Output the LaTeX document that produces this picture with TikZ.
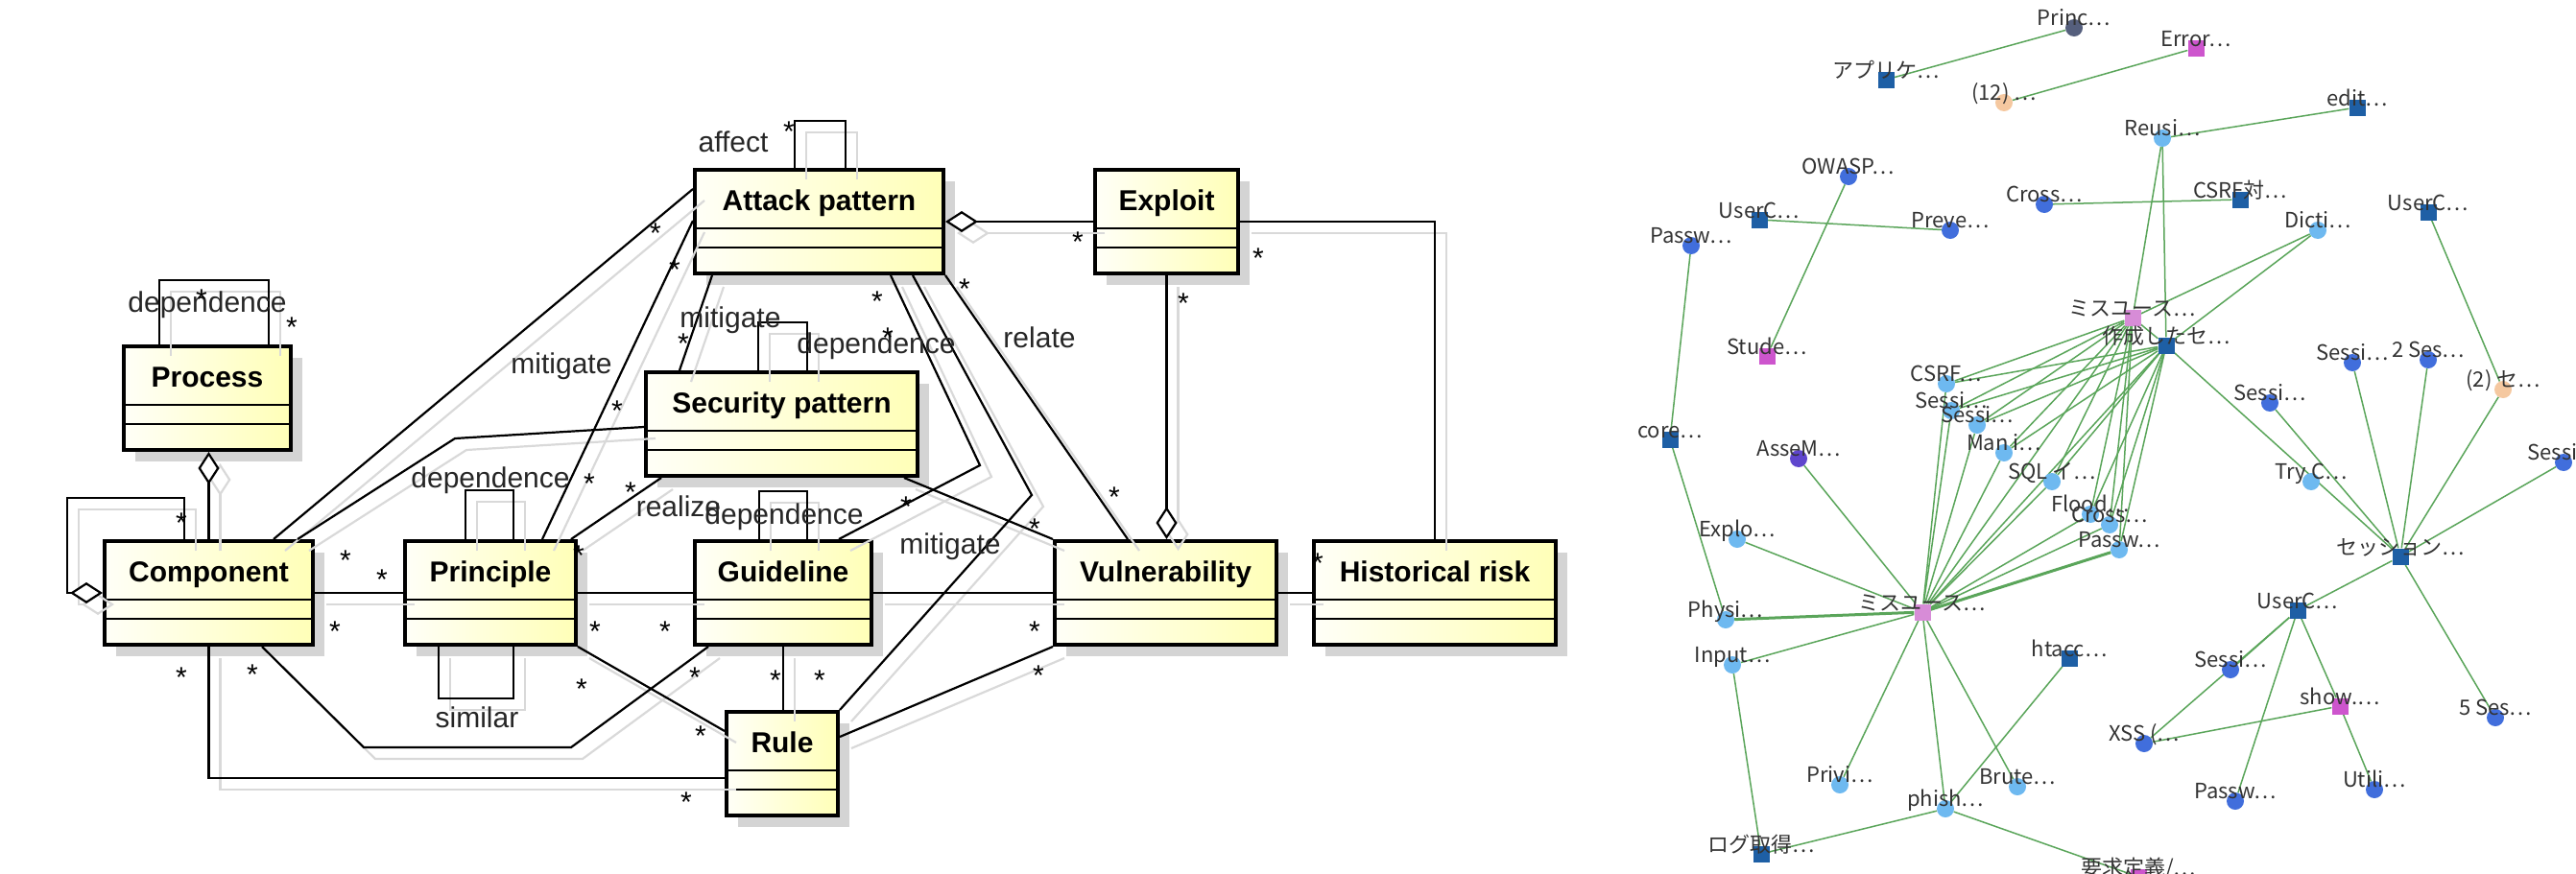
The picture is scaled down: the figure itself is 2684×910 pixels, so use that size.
\documentclass[tikz,border=0pt]{standalone}
\usepackage{fontspec}
\setmainfont{Liberation Sans}
\newfontfamily\jpfont{Noto Sans CJK JP}
\usepackage{tikz}
\usetikzlibrary{arrows.meta,shadows,backgrounds}

\definecolor{gsqblue}{RGB}{30,95,165}
\definecolor{glight}{RGB}{110,185,240}
\definecolor{gmid}{RGB}{65,110,220}
\definecolor{gpink}{RGB}{215,140,215}
\definecolor{gmag}{RGB}{205,85,205}
\definecolor{gpeach}{RGB}{245,200,160}
\definecolor{gslate}{RGB}{85,95,125}
\definecolor{gpurple}{RGB}{95,70,205}
\definecolor{ggreen}{RGB}{90,165,90}

\tikzset{
  umlcls/.style={draw, line width=4pt, anchor=north west, inner xsep=0pt, inner ysep=0pt,
    text height=42pt, text depth=66pt, font=\fontsize{30}{36}\selectfont\bfseries,
    left color=yellow!3, right color=yellow!28,
    drop shadow={shadow xshift=12pt, shadow yshift=-12pt, fill=black!17, opacity=1},
    path picture={
      \draw[line width=2.5pt] ([yshift=-61pt]path picture bounding box.north west) -- ([yshift=-61pt]path picture bounding box.north east);
      \draw[line width=2.5pt] ([yshift=-81pt]path picture bounding box.north west) -- ([yshift=-81pt]path picture bounding box.north east);
    }}
}
\tikzset{
  assoc/.style={draw=black, line width=2.2pt},
  agg/.style={-{Diamond[length=34pt, width=22pt, fill=white]}},
  ghostlink/.style={assoc/.style={draw=black!15, line width=2.2pt},
    agg/.style={-{Diamond[length=34pt, width=22pt, open]}}}
}
\tikzset{
  mult/.style={font=\fontsize{30}{36}\selectfont, anchor=base, yshift=-17pt, inner sep=0pt},
  rolelbl/.style={font=\fontsize{30}{36}\selectfont, text=black!85, inner sep=0pt}
}
\tikzset{
  gsq/.style={rectangle, inner sep=0pt, minimum size=17pt, fill=#1},
  gdot/.style={circle, inner sep=0pt, minimum size=18pt, fill=#1},
  glbl/.style={font=\jpfont\fontsize{22}{26}\selectfont, text=black!80, anchor=base, inner sep=0pt},
  gline/.style={draw=ggreen, line width=1.5pt}
}

\newcommand{\umllinks}{%
  \draw[assoc] ([xshift=39pt]proc.north west) -- ++(0,-67) -| ([xshift=153pt]proc.north west);
  \draw[assoc, agg] (comp.north) -- (comp.north |- proc.south);
  \draw[assoc, agg] ([xshift=85pt]comp.north west) -- ++(0,-43) -| ([xshift=-37pt]comp.west) -- (comp.west);
  \draw[assoc] ([xshift=178pt]comp.north west) -- ([yshift=-22pt]attack.north west);
  \draw[assoc] ([xshift=203pt]comp.north west) -- (474,457) -- ([yshift=-59pt]secp.north west);
  \draw[assoc] ([xshift=145pt]prin.north west) -- ([yshift=-55pt]attack.north west);
  \draw[assoc] ([xshift=20pt]attack.south west) -- ([xshift=37pt]secp.north west);
  \draw[assoc] ([xshift=119pt]secp.north west) -- ++(0,-50) -| ([xshift=170pt]secp.north west);
  \draw[assoc] ([xshift=106pt]attack.north west) -- ++(0,-49) -| ([xshift=159pt]attack.north west);
  \draw[assoc, agg] (exploit.west) -- (attack.east);
  \draw[assoc] (exploit.east) -| (hist.north);
  \draw[assoc, agg] (exploit.south) -- (exploit.south |- vuln.north);
  \draw[assoc] (attack.south east) -- ([xshift=78pt]vuln.north west);
  \draw[assoc] ([xshift=206pt]attack.south west) -- (1021,485) -- ([xshift=152pt]guide.north west);
  \draw[assoc] ([xshift=229pt]attack.south west) -- (1075,516) -- (rule.north east);
  \draw[assoc] ([xshift=-16pt]secp.south east) -- (vuln.north west);
  \draw[assoc] (comp.east) -- (prin.west);
  \draw[assoc] (prin.east) -- (guide.west);
  \draw[assoc] (guide.east) -- (vuln.west);
  \draw[assoc] (vuln.east) -- (hist.west);
  \draw[assoc] ([xshift=65pt]prin.north west) -- ++(0,-51) -| ([xshift=115pt]prin.north west);
  \draw[assoc] ([xshift=37pt]prin.south west) -- ++(0,54) -| ([xshift=115pt]prin.south west);
  \draw[assoc] ([xshift=-7pt]prin.north east) -- ([xshift=18pt]secp.south west);
  \draw[assoc] ([xshift=69pt]guide.north west) -- ++(0,-50) -| ([xshift=119pt]guide.north west);
  \draw[assoc] (comp.south) |- ([yshift=-15pt]rule.west);
  \draw[assoc] ([xshift=166pt]comp.south west) -- (379,779) -- (595,779) -- ([xshift=16pt]guide.south west);
  \draw[assoc] (prin.south east) -- ([yshift=-22pt]rule.north west);
  \draw[assoc] (guide.south) -- (guide.south |- rule.north);
  \draw[assoc] (vuln.south west) -- ([yshift=-28pt]rule.north east);
}

\begin{document}
\begin{tikzpicture}[x=1pt, y=-1pt, label distance=-7pt]
  \useasboundingbox (0,0) rectangle (2684,910);

  % class diagram
  \node[umlcls, minimum width=174pt] (proc) at (127,359) {Process};
  \node[umlcls, minimum width=217pt] (comp) at (107,562) {Component};
  \node[umlcls, minimum width=178pt] (prin) at (420,562) {Principle};
  \node[umlcls, minimum width=184pt] (guide) at (722,562) {Guideline};
  \node[umlcls, minimum width=231pt] (vuln) at (1097,562) {Vulnerability};
  \node[umlcls, minimum width=252pt] (hist) at (1367,562) {Historical risk};
  \node[umlcls, minimum width=259pt] (attack) at (722,175) {Attack pattern};
  \node[umlcls, minimum width=149pt] (exploit) at (1139,175) {Exploit};
  \node[umlcls, minimum width=283pt] (secp) at (671,386) {Security pattern};
  \node[umlcls, minimum width=116pt] (rule) at (755,740) {Rule};

  \begin{scope}[transform canvas={xshift=12pt, yshift=-12pt}, ghostlink]
    \umllinks
  \end{scope}
  \umllinks

  \node[rolelbl] (depproc) at (216,318) {dependence};
  \node[rolelbl] (aff) at (764,148) {affect};
  \node[rolelbl] (mitprin) at (585,382) {mitigate};
  \node[rolelbl] (mitsec) at (761,334) {mitigate};
  \node[rolelbl] (depsec) at (913,361) {dependence};
  \node[rolelbl] (rel) at (1083,352) {relate};
  \node[rolelbl] (depprin) at (511,501) {dependence};
  \node[rolelbl] (real) at (707,528) {realize};
  \node[rolelbl] (depguide) at (817,539) {dependence};
  \node[rolelbl] (mitrule) at (990,570) {mitigate};
  \node[rolelbl] (sim) at (497,748) {similar};

  \foreach \x/\y [count=\i] in {210/305, 304/334, 822/130, 189/538, 683/236, 703/274,
      712/351, 643/421, 614/497, 657/506, 603/572, 360/577, 398/597, 349/651, 620/651,
      693/651, 189/699, 263/696, 606/711, 724/699, 808/702, 854/702, 730/760, 715/829,
      914/307, 925/345, 1005/294, 1123/245, 1233/309, 1311/262, 1161/511, 944/521,
      1078/544, 1373/580, 1078/651, 1082/697}
    \node[mult] (m\i) at (\x,\y) {*};

  % graph
  \node[gdot=gslate, label={[glbl]90:Princ⋯}] (princ) at (2161,29) {};
  \node[gsq=gsqblue, label={[glbl]90:アプリケ⋯}] (appli) at (1965,83) {};
  \node[gsq=gmag, label={[glbl]90:Error⋯}] (error) at (2288,50) {};
  \node[gdot=gpeach, label={[glbl]90:(12) ⋯}] (n12) at (2088,107) {};
  \node[gsq=gsqblue, label={[glbl]90:edit⋯}] (edit) at (2456,112) {};
  \node[gdot=glight, label={[glbl]90:Reusi⋯}] (reusi) at (2253,144) {};
  \node[gdot=gmid, label={[glbl]90:OWASP⋯}] (owasp) at (1926,184) {};
  \node[gsq=gsqblue, label={[glbl]90:UserC⋯}] (userA) at (1833,229) {};
  \node[gdot=gmid, label={[glbl]90:Preve⋯}] (preve) at (2032,240) {};
  \node[gdot=gmid, label={[glbl]90:Passw⋯}] (passA) at (1762,256) {};
  \node[gdot=gmid, label={[glbl]90:Cross⋯}] (crossA) at (2130,213) {};
  \node[gsq=gsqblue, label={[glbl]90:CSRF対⋯}] (csrfT) at (2334,208) {};
  \node[gdot=glight, label={[glbl]90:Dicti⋯}] (dicti) at (2415,240) {};
  \node[gsq=gsqblue, label={[glbl]90:UserC⋯}] (userB) at (2530,221) {};
  \node[gsq=gpink, label={[glbl]90:ミスユース⋯}] (misU) at (2222,331) {};
  \node[gsq=gsqblue, label={[glbl]90:作成したセ⋯}] (saku) at (2257,360) {};
  \node[gsq=gmag, label={[glbl]90:Stude⋯}] (stude) at (1841,371) {};
  \node[gdot=glight, label={[glbl]90:CSRF⋯}] (csrf) at (2028,400) {};
  \node[gdot=glight, label={[glbl]90:Sessi⋯}] (sesA) at (2033,428) {};
  \node[gdot=glight, label={[glbl]90:Sessi⋯}] (sesB) at (2060,443) {};
  \node[gdot=glight, label={[glbl]90:Man i⋯}] (mani) at (2088,472) {};
  \node[gdot=glight, label={[glbl]90:SQL イ⋯}] (sql) at (2138,502) {};
  \node[gdot=glight, label={[glbl]90:Flood⋯}] (flood) at (2178,536) {};
  \node[gdot=glight, label={[glbl]90:Cross⋯}] (crossB) at (2198,547) {};
  \node[gdot=glight, label={[glbl]90:Passw⋯}] (passB) at (2208,573) {};
  \node[gdot=gmid, label={[glbl]90:Sessi⋯}] (sesC) at (2451,378) {};
  \node[gdot=gmid, label={[glbl]90:2 Ses⋯}] (ses2) at (2530,375) {};
  \node[gdot=gpeach, label={[glbl]90:(2) セ⋯}] (sei2) at (2608,406) {};
  \node[gdot=gmid, label={[glbl]90:Sessi⋯}] (sesD) at (2365,420) {};
  \node[gsq=gsqblue, label={[glbl]90:core⋯}] (core) at (1740,458) {};
  \node[gdot=gpurple, label={[glbl]90:AsseM⋯}] (assem) at (1874,478) {};
  \node[gdot=glight, label={[glbl]90:Try C⋯}] (tryc) at (2408,502) {};
  \node[gdot=gmid, label={[glbl]90:Sessi⋯}] (sesE) at (2671,482) {};
  \node[gdot=glight, label={[glbl]90:Explo⋯}] (explo) at (1810,562) {};
  \node[gsq=gsqblue, label={[glbl]90:セッション⋯}] (session) at (2501,580) {};
  \node[gsq=gpink, label={[glbl]90:ミスユース⋯}] (misL) at (2003,638) {};
  \node[gdot=glight, label={[glbl]90:Physi⋯}] (physi) at (1798,646) {};
  \node[gsq=gsqblue, label={[glbl]90:UserC⋯}] (userC) at (2394,636) {};
  \node[gdot=glight, label={[glbl]90:Input⋯}] (input) at (1805,693) {};
  \node[gsq=gsqblue, label={[glbl]90:htacc⋯}] (htacc) at (2156,686) {};
  \node[gdot=gmid, label={[glbl]90:Sessi⋯}] (sesF) at (2324,698) {};
  \node[gsq=gmag, label={[glbl]90:show.⋯}] (show) at (2438,736) {};
  \node[gdot=gmid, label={[glbl]90:5 Ses⋯}] (ses5) at (2600,748) {};
  \node[gdot=gmid, label={[glbl]90:XSS (⋯}] (xss) at (2234,775) {};
  \node[gdot=glight, label={[glbl]90:Privi⋯}] (privi) at (1917,818) {};
  \node[gdot=glight, label={[glbl]90:Brute⋯}] (brute) at (2102,820) {};
  \node[gdot=gmid, label={[glbl]90:Passw⋯}] (passC) at (2329,835) {};
  \node[gdot=gmid, label={[glbl]90:Utili⋯}] (utili) at (2474,823) {};
  \node[gdot=glight, label={[glbl]90:phish⋯}] (phish) at (2027,843) {};
  \node[gsq=gsqblue, label={[glbl]90:ログ取得⋯}] (logu) at (1835,890) {};
  \node[gsq=gmag, label={[glbl]90:要求定義/⋯}] (youk) at (2228,914) {};

  \begin{scope}[on background layer]
    \foreach \a/\b in {princ/appli, error/n12, edit/reusi, reusi/misU, reusi/saku,
        owasp/stude, userA/preve, passA/core, core/physi, crossA/csrfT, dicti/misU,
        dicti/saku, userB/sei2, sei2/session, sesC/session, ses2/session, sesD/session,
        sesE/session, saku/session, session/userC, session/ses5, userC/sesF, userC/xss,
        userC/passC, userC/show, show/utili, show/xss, input/logu, phish/logu,
        phish/htacc, phish/youk, misL/explo, misL/assem, misL/input, misL/privi,
        misL/phish, misL/brute, misU/misL, saku/misL, misU/saku}
      \draw[gline] (\a) -- (\b);
    \foreach \h in {misU, saku, misL}
      \foreach \c in {csrf, sesA, sesB, mani, sql, flood, crossB, passB}
        \draw[gline] (\h) -- (\c);
    \draw[gline, line width=3pt] (misL) -- (physi);
    \draw[gline, line width=3pt] (misL) -- (passB);
  \end{scope}
\end{tikzpicture}
\end{document}
